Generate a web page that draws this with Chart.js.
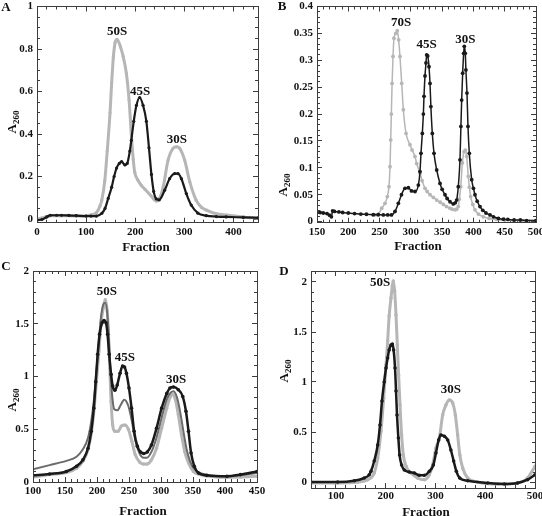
<!DOCTYPE html>
<html>
<head>
<meta charset="utf-8">
<script src="https://cdn.jsdelivr.net/npm/chart.js@4.4.1/dist/chart.umd.min.js"></script>
<style>
body { margin: 0; background: #fff; }
#fig { position: relative; width: 542px; height: 516px; font-family: 'Liberation Serif', serif; font-weight: bold; color: #111; }
#fig canvas { position: absolute; }
.txt { position: absolute; transform: translate(-50%, -50%); white-space: nowrap; font-size: 13px; }
.ytl { position: absolute; transform: translate(-50%, -50%) rotate(-90deg); white-space: nowrap; font-size: 13px; }
.ytl sub { font-size: 9px; vertical-align: -3px; }
.box { position: absolute; box-sizing: border-box; border: 1px solid #3c3c3c; }
</style>
</head>
<body>
<div id="fig">
  <canvas id="cA" width="271" height="258" style="left:0;top:0"></canvas>
  <canvas id="cB" width="271" height="258" style="left:271px;top:0"></canvas>
  <canvas id="cC" width="271" height="258" style="left:0;top:258px"></canvas>
  <canvas id="cD" width="271" height="258" style="left:271px;top:258px"></canvas>

  <div class="box" style="left:37px;top:6px;width:222px;height:217px"></div>
  <div class="box" style="left:317px;top:6px;width:220px;height:217px"></div>
  <div class="box" style="left:33px;top:271px;width:225px;height:212px"></div>
  <div class="box" style="left:311px;top:271px;width:225px;height:218px"></div>

  <div class="txt" style="left:6px;top:7px">A</div>
  <div class="txt" style="left:282px;top:6px">B</div>
  <div class="txt" style="left:6px;top:266px">C</div>
  <div class="txt" style="left:284px;top:271px">D</div>

  <div class="txt" style="left:146px;top:247px">Fraction</div>
  <div class="txt" style="left:418px;top:246px">Fraction</div>
  <div class="txt" style="left:143px;top:511px">Fraction</div>
  <div class="txt" style="left:426px;top:512px">Fraction</div>

  <div class="ytl" style="left:12px;top:122px">A<sub>260</sub></div>
  <div class="ytl" style="left:283px;top:185px">A<sub>260</sub></div>
  <div class="ytl" style="left:12px;top:400px">A<sub>260</sub></div>
  <div class="ytl" style="left:284px;top:371px">A<sub>260</sub></div>
</div>
<script>
// ---- panel A ----
const fracA_black = [0, 10, 20, 27, 40, 50, 65, 80, 100, 110, 121, 132, 138.5, 145, 152, 157, 162, 167.6, 172.3, 179, 183.7, 189, 192, 197, 202.5, 209, 216, 222.7, 228, 233, 237.6, 243, 248.6, 260, 270, 280.4, 287, 294, 304, 314, 327.6, 344.6, 365, 385, 420, 450];
const a260A_black = [-0.005, -0.002, 0.01, 0.018, 0.018, 0.018, 0.017, 0.016, 0.014, 0.014, 0.014, 0.027, 0.05, 0.097, 0.15, 0.2, 0.24, 0.262, 0.27, 0.255, 0.262, 0.32, 0.37, 0.46, 0.535, 0.572, 0.535, 0.46, 0.335, 0.21, 0.13, 0.095, 0.09, 0.136, 0.19, 0.214, 0.214, 0.19, 0.12, 0.066, 0.028, 0.016, 0.012, 0.01, 0.008, 0.006];
const fracA_gray = [0, 10, 20, 27, 50, 80, 100, 110, 121, 128, 132, 138, 143, 148.7, 152, 155.4, 159, 163, 170, 175.5, 182, 187.5, 192, 196, 199, 205, 212, 220, 232, 243, 250, 257, 267, 277, 284, 290.5, 300.6, 311, 324, 335, 345, 365, 385, 420, 450];
const a260A_gray = [0, 0.005, 0.012, 0.016, 0.016, 0.015, 0.016, 0.02, 0.03, 0.06, 0.09, 0.18, 0.32, 0.5, 0.64, 0.76, 0.83, 0.845, 0.81, 0.765, 0.685, 0.56, 0.4, 0.28, 0.22, 0.185, 0.16, 0.14, 0.11, 0.085, 0.1, 0.152, 0.278, 0.333, 0.34, 0.333, 0.278, 0.176, 0.089, 0.055, 0.042, 0.025, 0.019, 0.01, 0.004];
const peakNameA = ['50S', '45S', '30S'];
const peakFracA = [163, 210, 285];
const peakA260A = [0.88, 0.6, 0.376];

// ---- panel B ----
const fracB_black = [150, 155, 160, 166, 170, 173, 175, 178, 185, 191, 200, 210, 220, 229, 240, 248, 256, 263, 269, 274.7, 280, 285, 290.6, 296, 301, 306.6, 312, 314.6, 316.2, 318.3, 320, 321, 322.6, 324.2, 325.3, 326.9, 329, 330.6, 332, 334.3, 337, 341.3, 346.6, 350, 354.6, 358, 362.6, 367.8, 371, 373.2, 375.8, 378.5, 380, 381.2, 382.8, 384.4, 385.4, 387, 388, 389.7, 391.3, 393.4, 397.2, 400, 402.5, 406, 410.5, 415, 420, 426.5, 432, 440, 447.8, 455, 465, 475, 485, 500];
const a260B_black = [0.017, 0.017, 0.016, 0.015, 0.012, 0.009, 0.02, 0.019, 0.018, 0.017, 0.016, 0.015, 0.014, 0.0137, 0.013, 0.0128, 0.0125, 0.0125, 0.0125, 0.019, 0.034, 0.05, 0.062, 0.063, 0.057, 0.056, 0.068, 0.093, 0.127, 0.164, 0.2, 0.233, 0.271, 0.295, 0.31, 0.308, 0.288, 0.257, 0.214, 0.164, 0.127, 0.096, 0.071, 0.06, 0.05, 0.043, 0.037, 0.033, 0.035, 0.04, 0.065, 0.115, 0.177, 0.226, 0.276, 0.313, 0.326, 0.313, 0.282, 0.239, 0.177, 0.127, 0.078, 0.062, 0.05, 0.038, 0.028, 0.021, 0.016, 0.0125, 0.009, 0.006, 0.0045, 0.004, 0.003, 0.003, 0.002, 0.002];
const fracB_gray = [240, 244, 248, 253.4, 258.7, 262.4, 265, 266.7, 267.8, 268.8, 270, 271.5, 273, 276, 278.3, 280.5, 282.6, 285.4, 288, 292.3, 298.6, 302, 306.6, 309.3, 314.6, 318, 322.6, 326, 330.6, 336, 341.3, 347, 352, 357, 362.6, 366, 370.6, 373, 375.8, 377.5, 379.7, 382.3, 385, 387, 389.2, 391.8, 393.5, 395.6, 399, 402.5, 408, 415.8, 425, 437, 450, 465, 480, 500];
const a260B_gray = [0.012, 0.013, 0.014, 0.025, 0.034, 0.0465, 0.065, 0.102, 0.152, 0.2, 0.257, 0.307, 0.341, 0.35, 0.355, 0.338, 0.307, 0.257, 0.208, 0.164, 0.143, 0.133, 0.121, 0.108, 0.09, 0.076, 0.062, 0.056, 0.05, 0.045, 0.04, 0.036, 0.032, 0.028, 0.025, 0.023, 0.022, 0.023, 0.028, 0.042, 0.065, 0.109, 0.13, 0.133, 0.121, 0.084, 0.064, 0.0465, 0.032, 0.022, 0.014, 0.009, 0.006, 0.004, 0.003, 0.002, 0.002, 0.002];
const peakNameB = ['70S', '45S', '30S'];
const peakFracB = [284.3, 325.3, 387];
const peakA260B = [0.37, 0.329, 0.338];

// ---- panel C ----
const fracC_black = [100, 126, 152, 168, 178, 186, 191, 195, 198, 201, 204, 208, 211, 214, 216.5, 219, 222, 224.5, 228, 231.6, 236, 240, 243, 246, 250, 254, 258, 263, 268, 273, 278.6, 285, 293, 301, 309, 314, 319.5, 327, 334, 339, 343, 347, 352, 358.5, 371.5, 403, 424, 450];
const a260C_black = [0.063, 0.076, 0.1, 0.15, 0.21, 0.32, 0.48, 0.7, 0.95, 1.21, 1.4, 1.51, 1.53, 1.51, 1.4, 1.21, 1.02, 0.91, 0.87, 0.92, 1.03, 1.1, 1.09, 1.03, 0.89, 0.7, 0.48, 0.34, 0.285, 0.27, 0.285, 0.35, 0.51, 0.7, 0.84, 0.89, 0.9, 0.875, 0.81, 0.67, 0.48, 0.275, 0.15, 0.085, 0.063, 0.054, 0.07, 0.1];
const fracC_dark = [100, 126, 152, 168, 178, 186, 191, 195.6, 199, 203, 206, 209.7, 213, 216, 218.5, 221, 224, 227, 232, 237, 242.6, 249, 254.5, 259.7, 266.5, 272.8, 278, 285, 293, 301, 309, 314, 319, 324.5, 329.8, 335, 340, 345.4, 353, 366, 403, 424, 450];
const a260C_dark = [0.12, 0.16, 0.2, 0.24, 0.31, 0.42, 0.575, 0.8, 1.05, 1.33, 1.55, 1.68, 1.7, 1.6, 1.365, 1.05, 0.8, 0.69, 0.68, 0.73, 0.78, 0.72, 0.575, 0.4, 0.27, 0.23, 0.23, 0.285, 0.42, 0.61, 0.78, 0.84, 0.86, 0.81, 0.67, 0.48, 0.31, 0.196, 0.117, 0.076, 0.054, 0.063, 0.085];
const fracC_gray = [100, 126, 152, 168, 178, 186, 191, 195.6, 199, 203, 206, 209.7, 213, 216, 218, 220, 222, 224.5, 228, 233, 238, 243.6, 249, 254.5, 259.7, 266.5, 272.8, 278, 285, 293, 301, 309, 314, 318, 322.5, 327, 332, 337, 343, 350.7, 361, 403, 424, 450];
const a260C_gray = [0.045, 0.07, 0.09, 0.13, 0.196, 0.31, 0.46, 0.7, 0.95, 1.24, 1.49, 1.65, 1.73, 1.62, 1.4, 1.08, 0.765, 0.54, 0.48, 0.48, 0.53, 0.54, 0.5, 0.385, 0.26, 0.19, 0.17, 0.17, 0.21, 0.32, 0.51, 0.7, 0.8, 0.83, 0.78, 0.64, 0.45, 0.29, 0.18, 0.1, 0.07, 0.044, 0.047, 0.054];
const peakNameC = ['50S', '45S', '30S'];
const peakFracC = [215.5, 243.7, 323.7];
const peakA260C = [1.8, 1.18, 0.967];

// ---- panel D ----
const fracD_black = [50, 103.6, 137, 157, 167, 170.5, 177, 184, 188.6, 192.6, 197, 200.7, 204, 207, 210.7, 213.4, 216, 218.8, 220.8, 222.8, 225.5, 228, 232, 237.5, 247.5, 257.6, 267.6, 277.7, 287.7, 295.8, 301, 306.5, 311, 318, 324.6, 331, 336.6, 342, 348.7, 364.7, 405, 438.4, 465, 485, 500];
const a260D_black = [0, 0, 0.013, 0.04, 0.073, 0.107, 0.21, 0.37, 0.57, 0.81, 1.0, 1.14, 1.24, 1.32, 1.37, 1.38, 1.32, 1.14, 0.91, 0.67, 0.44, 0.27, 0.17, 0.12, 0.1, 0.09, 0.067, 0.067, 0.107, 0.17, 0.29, 0.42, 0.47, 0.457, 0.42, 0.32, 0.21, 0.107, 0.04, 0.013, -0.01, -0.02, -0.01, 0.023, 0.073];
const fracD_gray = [50, 103.6, 143.8, 164, 177, 184, 190.6, 196, 200.7, 204, 207, 210.7, 213.4, 215.4, 218, 220.8, 223.4, 226, 228.8, 232, 235.5, 241, 251, 264, 277.7, 287.7, 294.4, 301, 307.8, 314.5, 321, 328, 334.6, 340, 344.6, 349, 354.7, 364.7, 384.8, 425, 465, 485, 500];
const a260D_gray = [-0.01, -0.01, 0, 0.023, 0.09, 0.24, 0.51, 0.84, 1.17, 1.41, 1.66, 1.84, 1.96, 2.01, 1.91, 1.67, 1.37, 1.07, 0.77, 0.47, 0.27, 0.157, 0.09, 0.04, 0.023, 0.073, 0.17, 0.34, 0.44, 0.67, 0.77, 0.82, 0.79, 0.67, 0.47, 0.27, 0.14, 0.04, 0, -0.02, -0.01, 0.04, 0.157];
const peakNameD = ['50S', '30S'];
const peakFracD = [188.6, 331];
const peakA260D = [1.99, 0.92];

const BLACK = '#1a1a1a';
const GRAY = '#b6b6b6';
const DARK = '#6b6b6b';
const EDGE = '#3c3c3c';

function pts(xs, ys) {
    return xs.map((x, i) => ({x: x, y: ys[i]}));
}

function series(xs, ys, color, width, radius) {
    return {
        data: pts(xs, ys),
        borderColor: color,
        backgroundColor: color,
        pointBackgroundColor: color,
        borderWidth: width,
        pointRadius: radius,
        pointBorderWidth: 0,
        cubicInterpolationMode: 'monotone',
        fill: false
    };
}

function fmt(v) {
    return String(Math.round(v * 1000) / 1000);
}

// one axis edge with inward ticks (negative tick length); unlabelled edges get see-through labels
function edge(axis, position, range, step, len, border, shown, pad, size, weight) {
    const horiz = axis === 'x';
    return {
        type: 'linear', axis: axis, position: position,
        min: range[0], max: range[1],
        weight: weight,
        grid: { display: true, drawOnChartArea: false, drawTicks: true, tickLength: -len, tickColor: EDGE, tickWidth: 1 },
        border: { display: border, color: EDGE, width: 1 },
        ticks: { display: true, stepSize: step, includeBounds: false, autoSkip: false, maxTicksLimit: 200,
                 maxRotation: 0, padding: pad + len, color: shown ? '#111' : 'rgba(0,0,0,0)',
                 font: { size: 11, weight: 'bold' }, callback: fmt },
        afterFit: s => {
            if (horiz) { s.height = size; s.paddingLeft = 0; s.paddingRight = 0; }
            else { s.width = size; s.paddingTop = 0; s.paddingBottom = 0; }
        }
    };
}

// peak names written at data coordinates
const extras = {};
const peakPlugin = {
    id: 'peaks',
    afterDraw(chart) {
        const o = extras[chart.canvas.id];
        const ctx = chart.ctx, sx = chart.scales.x, sy = chart.scales.y;
        ctx.save();
        ctx.fillStyle = '#111';
        ctx.font = 'bold 13px "Liberation Serif"';
        ctx.textAlign = 'center';
        ctx.textBaseline = 'middle';
        for (let i = 0; i < o.names.length; i++) {
            ctx.fillText(o.names[i], sx.getPixelForValue(o.fx[i]), sy.getPixelForValue(o.fy[i]));
        }
        ctx.restore();
    }
};

function drawPanel(id, sets, xr, yr, box, fr) {
    console.log("drawing panel " + id);
    extras[id] = fr;
    return new Chart(document.getElementById(id), {
        type: 'line',
        data: { datasets: sets },
        options: {
            responsive: false,
            animation: false,
            layout: { padding: { top: box.top, right: box.right, left: 0, bottom: 0 } },
            plugins: { legend: { display: false }, tooltip: { enabled: false } },
            scales: {
                x:  edge('x', 'bottom', xr, xr[2], 5, true, true, box.xpad, box.xh, 1),
                x2: edge('x', 'bottom', xr, fr.xMinor, 3, false, false, 0, 0, 0),
                x1: edge('x', 'top', xr, xr[2], 5, true, false, 0, 0, 0),
                x3: edge('x', 'top', xr, fr.xMinor, 3, false, false, 0, 0, 0),
                y:  edge('y', 'left', yr, yr[2], 5, true, true, 4, box.yw, 1),
                y2: edge('y', 'left', yr, fr.yMinor, 3, false, false, 0, 0, 0),
                y1: edge('y', 'right', yr, yr[2], 5, true, false, 0, 0, 0),
                y3: edge('y', 'right', yr, fr.yMinor, 3, false, false, 0, 0, 0)
            }
        },
        plugins: [peakPlugin]
    });
}

Chart.defaults.font.family = "'Liberation Serif', serif";

drawPanel('cA', [
    series(fracA_black, a260A_black, BLACK, 2.2, 1.6),
    series(fracA_gray, a260A_gray, GRAY, 3, 1.6)
], [0, 450, 100], [-0.017, 1, 0.2],
   { top: 6.5, right: 13, yw: 37, xh: 35.3, xpad: 3 },
   { xMinor: 20, yMinor: 0.05, names: peakNameA, fx: peakFracA, fy: peakA260A });

drawPanel('cB', [
    series(fracB_black, a260B_black, BLACK, 1.5, 1.9),
    series(fracB_gray, a260B_gray, GRAY, 1.5, 1.9)
], [150, 500, 50], [-0.002, 0.4, 0.05],
   { top: 6.5, right: 6, yw: 46, xh: 35.3, xpad: 3 },
   { xMinor: 10, yMinor: 0.01, names: peakNameB, fx: peakFracB, fy: peakA260B });

drawPanel('cC', [
    series(fracC_black, a260C_black, BLACK, 2.5, 1.8),
    series(fracC_dark, a260C_dark, DARK, 2, 0),
    series(fracC_gray, a260C_gray, GRAY, 3, 1.6)
], [100, 450, 50], [0, 2, 0.5],
   { top: 13, right: 14, yw: 33, xh: 34, xpad: 3 },
   { xMinor: 10, yMinor: 0.1, names: peakNameC, fx: peakFracC, fy: peakA260C });

drawPanel('cD', [
    series(fracD_black, a260D_black, BLACK, 2.5, 1.8),
    series(fracD_gray, a260D_gray, GRAY, 3, 1.8)
], [50, 500, 100], [-0.06, 2.11, 0.5],
   { top: 13, right: 7, yw: 40, xh: 28, xpad: 2 },
   { xMinor: 20, yMinor: 0.1, names: peakNameD, fx: peakFracD, fy: peakA260D });
</script>
</body>
</html>
